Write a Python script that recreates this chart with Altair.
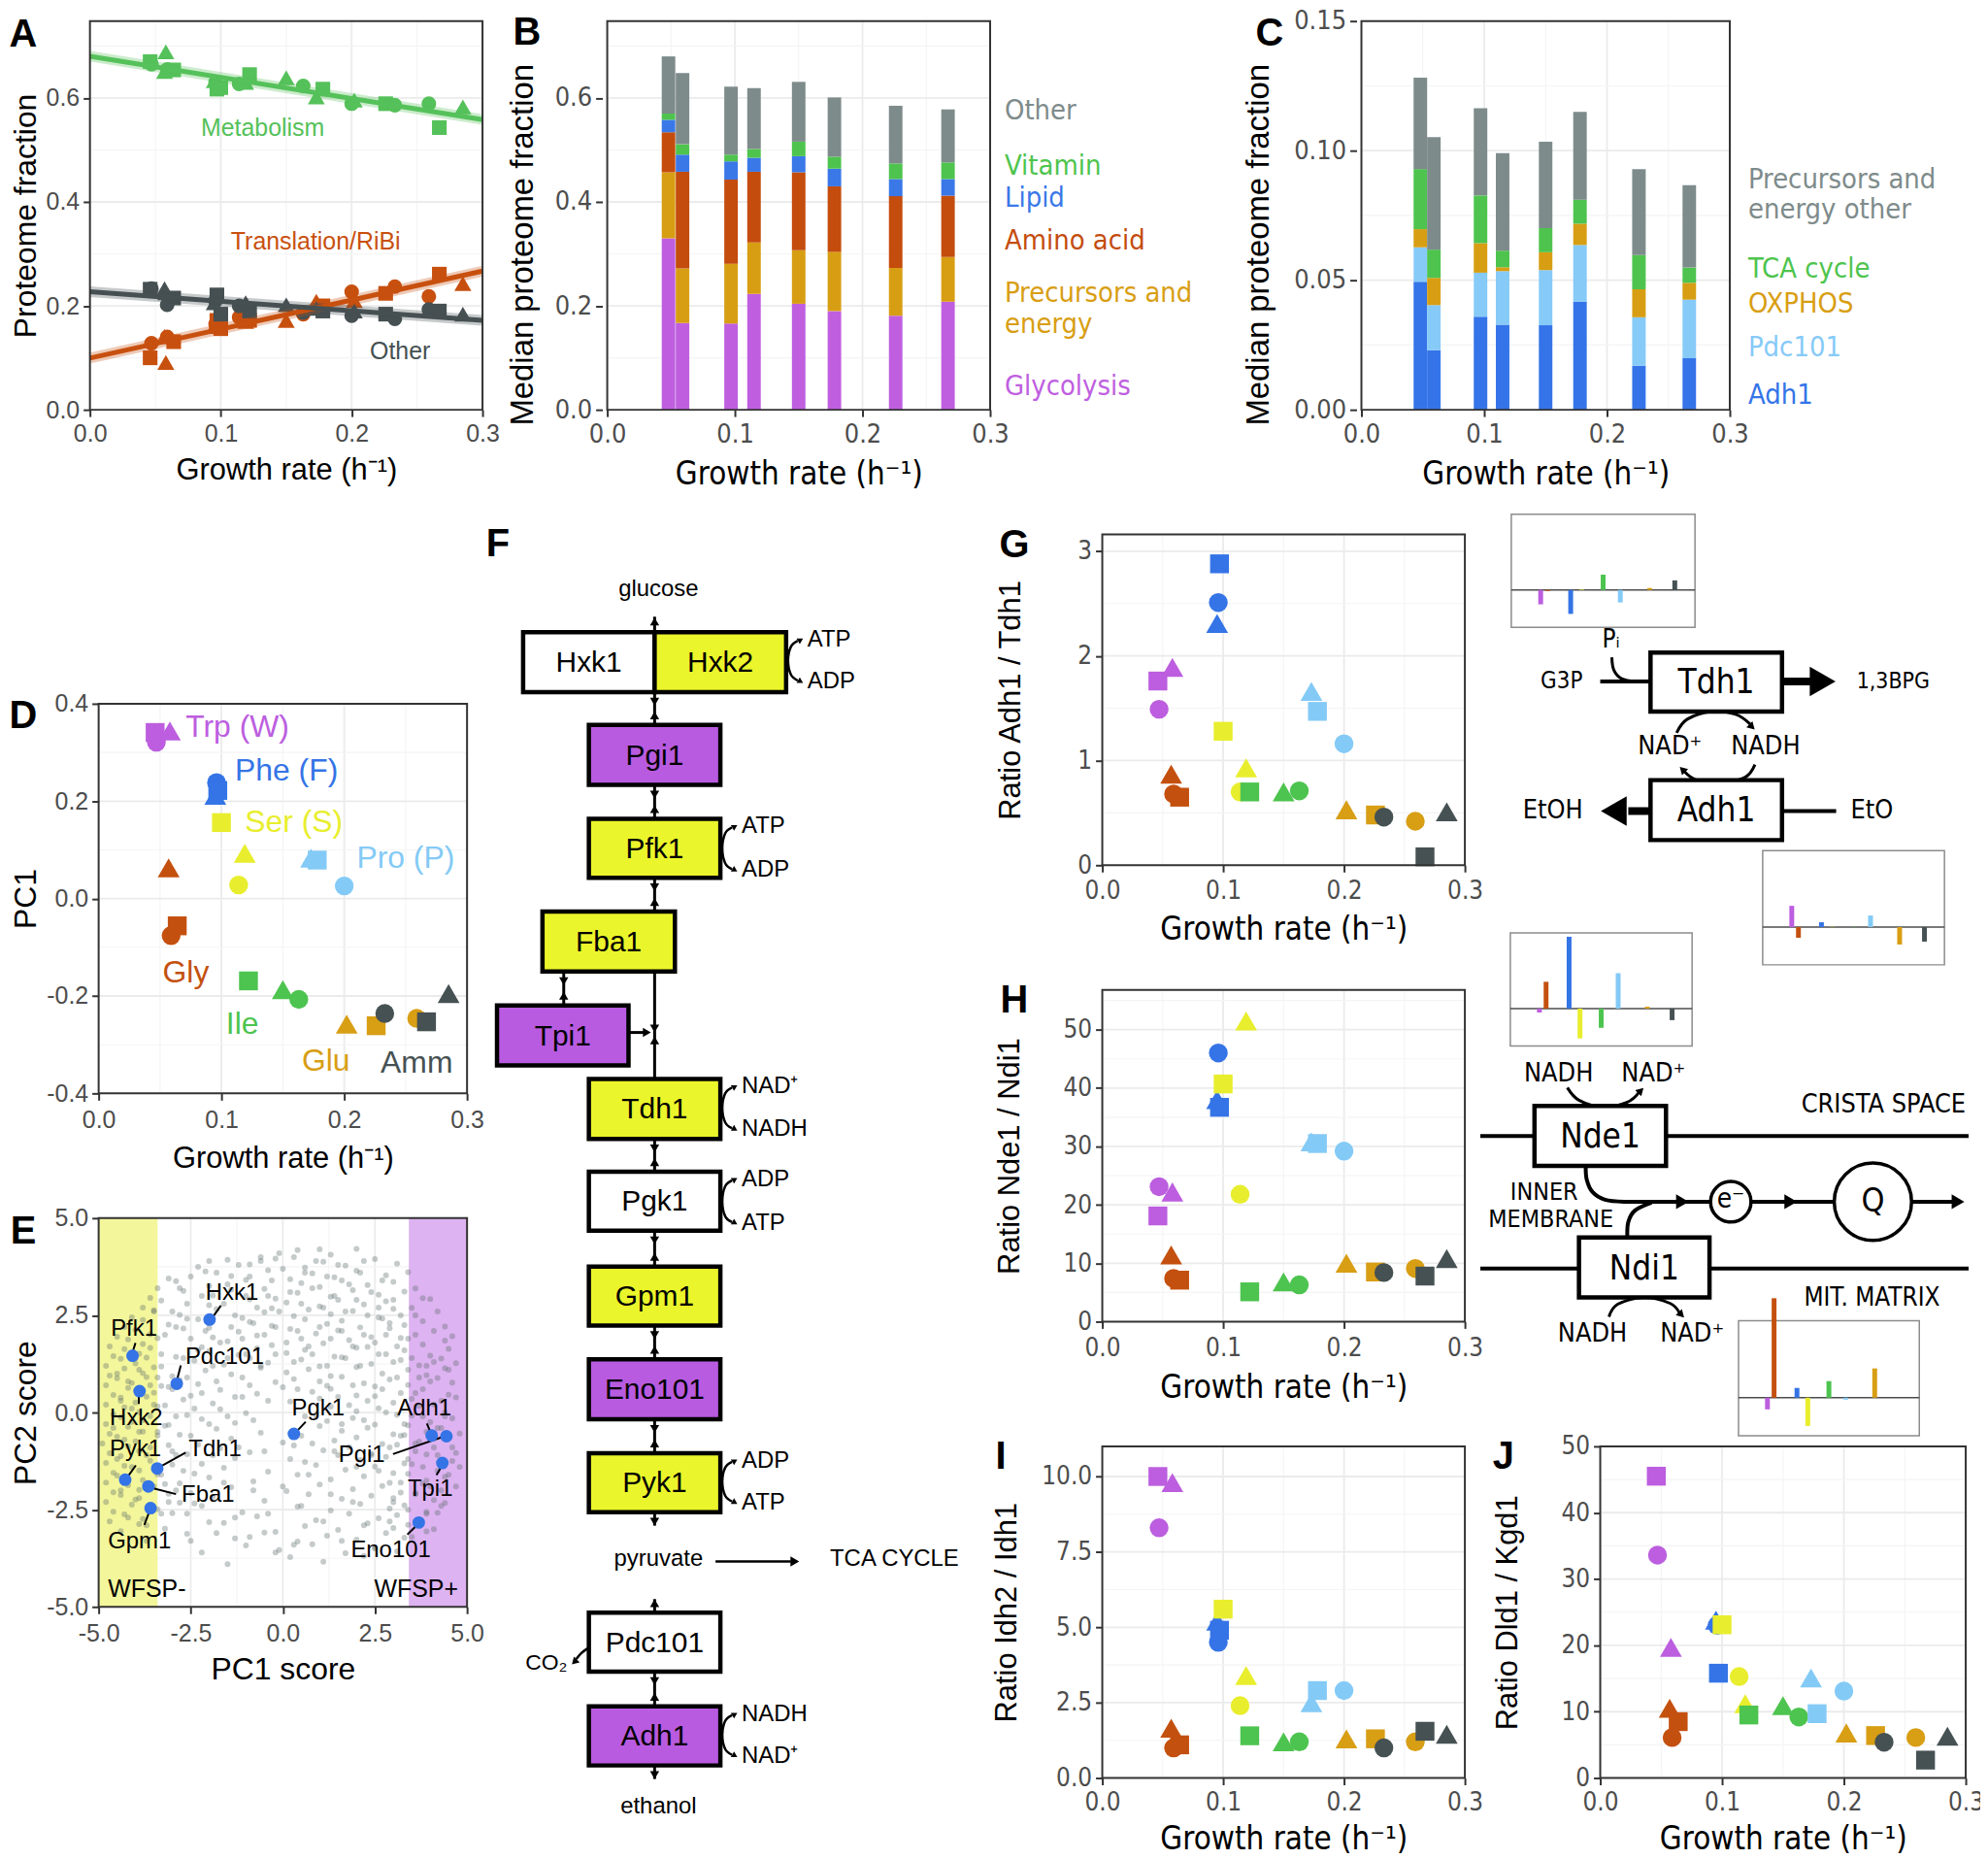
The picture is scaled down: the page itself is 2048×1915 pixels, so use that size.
import altair as alt
import pandas as pd

SANS = "Liberation Sans, Arial, Helvetica, sans-serif"
NARROW = "Liberation Sans Narrow, Arial Narrow, DejaVu Sans Condensed, Liberation Sans, sans-serif"
GR = "Growth rate (h\u207b\u00b9)"

# ---------------- conditions (shared) ----------------
conds = ['Trp', 'Gly', 'Phe', 'Ser', 'Ile', 'Pro', 'Glu', 'Amm']
cond_colors = ['#BC5EDF', '#C4500F', '#3574E6', '#E8EE2D', '#4DC44F', '#84CAF6', '#D89E14', '#465153']
reps = ['circle', 'square', 'triangle-up']
med_growth = [0.048, 0.059, 0.097, 0.115, 0.150, 0.178, 0.226, 0.267]

# replicate growth rates: [circle, square, triangle]
growth = {'Trp': [0.047, 0.046, 0.058], 'Gly': [0.059, 0.064, 0.057], 'Phe': [0.096, 0.097, 0.095],
          'Ser': [0.114, 0.100, 0.119], 'Ile': [0.163, 0.122, 0.150], 'Pro': [0.200, 0.178, 0.173],
          'Glu': [0.259, 0.226, 0.202], 'Amm': [0.233, 0.267, 0.285]}

# ---------------- panel A ----------------
a_metab = {'Trp': [0.665, 0.670, 0.689], 'Gly': [0.655, 0.654, 0.651], 'Phe': [0.630, 0.617, 0.633],
           'Ser': [0.627, 0.620, 0.630], 'Ile': [0.623, 0.645, 0.639], 'Pro': [0.589, 0.617, 0.602],
           'Glu': [0.589, 0.589, 0.596], 'Amm': [0.586, 0.543, 0.583]}
a_transl = {'Trp': [0.128, 0.100, 0.091], 'Gly': [0.140, 0.131, 0.141], 'Phe': [0.165, 0.172, 0.160],
            'Ser': [0.178, 0.156, 0.170], 'Ile': [0.184, 0.172, 0.172], 'Pro': [0.227, 0.200, 0.209],
            'Glu': [0.218, 0.224, 0.210], 'Amm': [0.237, 0.261, 0.243]}
a_other = {'Trp': [0.233, 0.232, 0.225], 'Gly': [0.202, 0.215, 0.233], 'Phe': [0.210, 0.221, 0.206],
           'Ser': [0.200, 0.184, 0.206], 'Ile': [0.187, 0.190, 0.202], 'Pro': [0.181, 0.190, 0.195],
           'Glu': [0.193, 0.184, 0.190], 'Amm': [0.175, 0.190, 0.184]}
a_cats = ['Metabolism', 'Translation/RiBi', 'Other']
a_cols = ['#55C15A', '#C8500F', '#465052']

# ---------------- panel B ----------------
b_cats = ['Glycolysis', 'Precursors and energy', 'Amino acid', 'Lipid', 'Vitamin', 'Other']
b_cols = ['#BF5FE0', '#D89E13', '#C44C0D', '#3A78E8', '#4EC44E', '#7E8B8B']
b_glyc = [0.330, 0.167, 0.166, 0.223, 0.204, 0.190, 0.181, 0.208]
b_prec = [0.127, 0.105, 0.115, 0.099, 0.103, 0.114, 0.092, 0.086]
b_amino = [0.077, 0.186, 0.162, 0.136, 0.150, 0.126, 0.138, 0.118]
b_lipid = [0.024, 0.033, 0.035, 0.027, 0.031, 0.034, 0.033, 0.032]
b_vit = [0.012, 0.020, 0.013, 0.017, 0.028, 0.023, 0.030, 0.032]
b_other = [0.110, 0.137, 0.131, 0.117, 0.115, 0.114, 0.111, 0.102]

# ---------------- panel C ----------------
c_cats = ['Adh1', 'Pdc101', 'OXPHOS', 'TCA cycle', 'Precursors and energy other']
c_cols = ['#3474E8', '#86CAF8', '#D89E13', '#4EC44E', '#7E8B8B']
c_adh1 = [0.0494, 0.0230, 0.0359, 0.0328, 0.0326, 0.0417, 0.0170, 0.0199]
c_pdc = [0.0133, 0.0174, 0.0170, 0.0207, 0.0213, 0.0219, 0.0187, 0.0226]
c_ox = [0.0070, 0.0105, 0.0114, 0.0015, 0.0069, 0.0082, 0.0108, 0.0065]
c_tca = [0.0232, 0.0109, 0.0184, 0.0064, 0.0093, 0.0093, 0.0132, 0.0059]
c_other = [0.0353, 0.0434, 0.0337, 0.0376, 0.0333, 0.0339, 0.0332, 0.0318]

# ---------------- panels D, G, H, I, J ----------------
d_pc1 = {'Trp': [0.321, 0.341, 0.344], 'Gly': [-0.076, -0.056, 0.063], 'Phe': [0.238, 0.222, 0.212],
         'Ser': [0.028, 0.156, 0.093], 'Ile': [-0.207, -0.169, -0.187], 'Pro': [0.026, 0.079, 0.083],
         'Glu': [-0.246, -0.261, -0.258], 'Amm': [-0.236, -0.253, -0.195]}
g_ratio = {'Trp': [1.49, 1.76, 1.89], 'Gly': [0.68, 0.65, 0.87], 'Phe': [2.51, 2.88, 2.31],
           'Ser': [0.70, 1.28, 0.93], 'Ile': [0.71, 0.70, 0.70], 'Pro': [1.16, 1.47, 1.66],
           'Glu': [0.42, 0.48, 0.53], 'Amm': [0.46, 0.08, 0.51]}
h_ratio = {'Trp': [23.1, 18.1, 22.2], 'Gly': [7.4, 7.1, 11.4], 'Phe': [46.0, 36.7, 38.0],
           'Ser': [21.8, 40.7, 51.5], 'Ile': [6.3, 5.1, 6.8], 'Pro': [29.2, 30.5, 30.8],
           'Glu': [9.1, 8.5, 10.0], 'Amm': [8.4, 7.8, 10.8]}
i_ratio = {'Trp': [8.3, 10.0, 9.8], 'Gly': [1.0, 1.1, 1.65], 'Phe': [4.5, 4.9, 5.2],
           'Ser': [2.4, 5.6, 3.4], 'Ile': [1.2, 1.4, 1.2], 'Pro': [2.9, 2.9, 2.5],
           'Glu': [1.2, 1.3, 1.3], 'Amm': [1.0, 1.55, 1.45]}
j_ratio = {'Trp': [33.6, 45.5, 19.7], 'Gly': [6.1, 8.5, 10.5], 'Phe': [23.0, 15.8, 23.8],
           'Ser': [15.3, 23.1, 11.2], 'Ile': [9.2, 9.5, 10.9], 'Pro': [13.1, 9.7, 15.1],
           'Glu': [6.1, 6.4, 6.8], 'Amm': [5.4, 2.7, 6.3]}

# ---------------- panel E ----------------
genes = ['Hxk1', 'Pfk1', 'Pdc101', 'Hxk2', 'Pgk1', 'Adh1', 'Pgi1', 'Tpi1', 'Eno101', 'Tdh1', 'Pyk1', 'Fba1', 'Gpm1']
gene_pc1 = [-1.99, -4.08, -2.88, -3.89, 0.30, 4.04, 4.44, 4.33, 3.69, -3.41, -4.28, -3.65, -3.59]
gene_pc2 = [2.39, 1.46, 0.74, 0.55, -0.55, -0.59, -0.61, -1.30, -2.83, -1.44, -1.73, -1.90, -2.46]
cloud = [(-2.8, 3.2), (-2.5, 3.5), (-2.2, 3.0), (-1.8, 3.6), (-1.5, 3.3), (-1.2, 3.8), (-0.9, 3.5), (-0.6, 3.9),
         (-0.3, 3.4), (0.0, 3.7), (0.3, 4.0), (0.6, 3.6), (0.9, 3.9), (1.2, 3.5), (1.5, 3.8), (1.8, 3.3),
         (2.1, 3.6), (2.4, 3.1), (2.7, 3.4), (3.0, 2.9), (-3.0, 2.6), (-2.6, 2.8), (-2.3, 2.4), (-1.6, 2.8),
         (-1.3, 2.5), (-1.0, 3.0), (-0.7, 2.7), (-0.4, 3.0), (-0.1, 2.6), (0.2, 3.1), (0.5, 2.8), (0.8, 3.2),
         (1.1, 2.7), (1.4, 3.0), (1.7, 2.6), (2.0, 2.9), (2.3, 2.5), (2.6, 2.7), (2.9, 2.3), (3.2, 2.5),
         (-3.2, 2.0), (-2.9, 2.2), (-2.5, 1.9), (-2.1, 2.1), (-1.7, 1.8), (-1.4, 2.2), (-1.1, 1.9), (-0.8, 2.3),
         (-0.5, 2.0), (-0.2, 2.2), (0.1, 1.8), (0.4, 2.1), (0.7, 1.7), (1.0, 2.2), (1.3, 1.9), (1.6, 2.1),
         (1.9, 1.7), (2.2, 2.0), (2.5, 1.8), (2.8, 2.0), (3.1, 1.7), (3.4, 1.9), (-3.3, 1.5), (-2.7, 1.4),
         (-2.3, 1.6), (-1.9, 1.2), (-1.5, 1.4), (-1.0, 1.5), (-0.6, 1.2), (-0.2, 1.5), (0.3, 1.3), (0.8, 1.5),
         (1.2, 1.2), (1.7, 1.4), (2.1, 1.2), (2.6, 1.5), (3.0, 1.3), (3.5, 1.4), (3.9, 1.2), (-3.4, 0.9),
         (-3.0, 0.6), (-2.6, 0.9), (-2.2, 0.5), (-1.8, 0.8), (-1.3, 0.4), (-0.9, 0.7), (-0.4, 0.3), (0.4, 0.6),
         (1.0, 0.8), (1.5, 0.4), (1.9, 0.7), (2.3, 0.3), (2.7, 0.6), (3.1, 0.9), (3.6, 0.5), (4.0, 0.8),
         (4.3, 0.3), (-3.5, 0.2), (-2.9, -0.1), (-2.4, 0.1), (-2.0, -0.3), (-1.5, -0.1), (-0.8, -0.2), (0.9, -0.1),
         (1.6, -0.3), (2.2, -0.2), (2.8, 0.0), (3.3, -0.3), (3.8, -0.1), (4.2, -0.4), (-4.5, 1.0), (-4.2, 0.8),
         (-3.9, 1.1), (-3.6, 0.7), (-4.4, 0.3), (-4.1, 0.1), (-3.8, -0.2), (-4.6, -0.4), (-4.3, -0.7), (-3.9, -0.5),
         (-3.6, -0.9), (-4.5, -1.2), (-4.1, -1.4), (-3.7, -1.1), (-3.3, -1.6), (-4.4, -2.0), (-3.9, -2.2), (-3.5, -1.9),
         (-3.1, -2.3), (-4.2, -2.7), (-3.7, -2.9), (-3.3, -2.6), (-4.0, 1.4), (-3.4, -0.5), (-3.0, -1.0), (-2.7, -1.5),
         (-2.5, -0.6), (-2.9, -2.0), (-2.6, -2.6), (4.5, 1.1), (4.1, 1.3), (3.7, 0.9), (4.4, -0.1), (4.0, -0.6),
         (3.6, -0.8), (4.6, -0.9), (4.2, -1.1), (3.8, -1.4), (3.4, -1.2), (4.5, -1.6), (4.0, -1.9), (3.6, -2.1),
         (3.2, -1.8), (4.3, -2.4), (3.9, -2.6), (3.4, -2.5), (3.0, -2.2), (4.1, -3.0), (3.5, -3.2), (2.9, -2.8),
         (2.6, -1.5), (2.9, -0.9), (2.4, -1.1), (3.2, -0.6), (-1.9, -1.1), (-1.2, -0.9), (-0.5, -1.0), (0.2, -1.2),
         (0.8, -0.8), (1.4, -1.0), (2.0, -1.4), (-1.6, -1.8), (-0.8, -2.0), (0.0, -1.9), (0.7, -1.6), (1.3, -2.1),
         (1.9, -2.3), (-2.2, -2.4), (-1.3, -2.7), (-0.4, -2.6), (0.5, -2.4), (1.1, -2.8), (2.2, -2.9), (-1.8, -3.1),
         (-0.9, -3.2), (0.3, -3.4), (1.6, -3.3), (2.5, -3.5), (-2.5, -3.3), (-0.2, -3.6), (-2.0, 3.9), (1.0, 4.2),
         (-0.1, 4.1), (2.2, 3.9), (-3.5, 2.6)]
# further background genes, read band by band: (PC1 scores, PC2 scores)
cloud_rows = [
    ([-0.6, 0.4, 1.3, 2.0], [4.0, 4.18, 4.06, 4.21]),
    ([-2.3, -1.5, -0.9, -0.2, 0.6, 1.1, 1.7, 2.5, 3.1], [3.75, 3.93, 3.81, 3.96, 3.73, 3.88, 3.78, 3.95, 3.83]),
    ([-3.1, -2.1, -1.4, -0.4, 0.2, 0.8, 1.4, 2.0, 2.8, 3.4], [3.45, 3.63, 3.51, 3.66, 3.43, 3.58, 3.48, 3.65, 3.53, 3.61]),
    ([-3.4, -2.9, -2.0, -1.0, -0.5, 0.5, 1.0, 1.6, 2.3, 3.0, 3.6], [3.2, 3.38, 3.26, 3.41, 3.18, 3.33, 3.23, 3.4, 3.28, 3.36, 3.19]),
    ([-3.6, -2.7, -1.9, -1.4, -0.2, 0.4, 1.3, 1.9, 2.6, 3.3, 3.8], [2.95, 3.13, 3.01, 3.16, 2.93, 3.08, 2.98, 3.15, 3.03, 3.11, 2.94]),
    ([-3.8, -3.3, -2.0, -0.9, -0.3, 0.1, 1.0, 1.5, 2.2, 2.8, 3.5, 4.0],
     [2.7, 2.88, 2.76, 2.91, 2.68, 2.83, 2.73, 2.9, 2.78, 2.86, 2.69, 2.92]),
    ([-4.1, -3.5, -2.8, -1.8, -1.1, -0.5, 0.3, 0.7, 1.3, 1.9, 2.6, 3.0, 3.6, 4.2],
     [2.45, 2.63, 2.51, 2.66, 2.43, 2.58, 2.48, 2.65, 2.53, 2.61, 2.44, 2.67, 2.5, 2.6]),
    ([-4.3, -3.8, -3.1, -2.6, -2.0, -0.9, -0.3, 0.6, 1.2, 1.6, 2.1, 2.7, 3.3, 3.8, 4.4],
     [2.2, 2.38, 2.26, 2.41, 2.18, 2.33, 2.23, 2.4, 2.28, 2.36, 2.19, 2.42, 2.25, 2.35, 2.21]),
    ([-4.5, -4.0, -3.6, -2.7, -1.9, -1.2, -0.7, 0.2, 0.9, 1.5, 2.4, 2.9, 3.6, 4.1, 4.6],
     [1.95, 2.13, 2.01, 2.16, 1.93, 2.08, 1.98, 2.15, 2.03, 2.11, 1.94, 2.17, 2.0, 2.1, 1.96]),
    ([-4.7, -4.2, -3.8, -3.4, -2.2, -1.5, -0.3, 0.5, 1.1, 1.8, 2.3, 3.2, 3.8, 4.4],
     [1.7, 1.88, 1.76, 1.91, 1.68, 1.83, 1.73, 1.9, 1.78, 1.86, 1.69, 1.92, 1.75, 1.85]),
    ([-4.6, -4.3, -3.9, -3.6, -2.9, -2.0, -1.2, -0.7, 0.1, 0.6, 1.4, 2.0, 2.8, 3.3, 4.0, 4.5],
     [1.45, 1.63, 1.51, 1.66, 1.43, 1.58, 1.48, 1.65, 1.53, 1.61, 1.44, 1.67, 1.5, 1.6, 1.46, 1.64]),
    ([-4.8, -4.4, -4.0, -3.7, -3.3, -2.4, -1.6, -0.9, -0.4, 0.5, 1.0, 1.6, 2.4, 3.2, 3.7, 4.3, 4.7],
     [1.2, 1.38, 1.26, 1.41, 1.18, 1.33, 1.23, 1.4, 1.28, 1.36, 1.19, 1.42, 1.25, 1.35, 1.21, 1.39, 1.27]),
    ([-4.7, -4.3, -3.8, -3.5, -3.0, -2.1, -1.4, -0.6, 0.1, 0.7, 1.3, 2.0, 2.7, 3.4, 3.9, 4.4],
     [0.95, 1.13, 1.01, 1.16, 0.93, 1.08, 0.98, 1.15, 1.03, 1.11, 0.94, 1.17, 1.0, 1.1, 0.96, 1.14]),
    ([-4.8, -4.5, -4.1, -3.7, -3.3, -2.8, -2.3, -1.1, -0.2, 0.3, 1.2, 1.6, 2.2, 2.9, 3.4, 4.2, 4.6],
     [0.7, 0.88, 0.76, 0.91, 0.68, 0.83, 0.73, 0.9, 0.78, 0.86, 0.69, 0.92, 0.75, 0.85, 0.71, 0.89, 0.77]),
    ([-4.6, -4.2, -3.5, -3.1, -2.5, -1.7, -0.7, 0.0, 0.8, 1.3, 2.0, 2.5, 3.2, 3.8, 4.5],
     [0.45, 0.63, 0.51, 0.66, 0.43, 0.58, 0.48, 0.65, 0.53, 0.61, 0.44, 0.67, 0.5, 0.6, 0.46]),
    ([-4.8, -4.4, -4.0, -3.7, -3.2, -2.7, -1.9, -1.1, 0.2, 1.0, 1.8, 2.5, 3.0, 3.5, 4.1, 4.7],
     [0.2, 0.38, 0.26, 0.41, 0.18, 0.33, 0.23, 0.4, 0.28, 0.36, 0.19, 0.42, 0.25, 0.35, 0.21, 0.39]),
    ([-4.6, -4.3, -3.9, -3.4, -2.6, -1.7, -1.0, 1.3, 2.0, 2.6, 3.1, 3.7, 4.4],
     [-0.05, 0.13, 0.01, 0.16, -0.07, 0.08, -0.02, 0.15, 0.03, 0.11, -0.06, 0.17, 0.0]),
    ([-4.8, -4.4, -4.1, -3.6, -3.1, -2.2, -1.3, 0.6, 1.2, 1.9, 2.5, 3.5, 4.0, 4.6],
     [-0.3, -0.12, -0.24, -0.09, -0.32, -0.17, -0.27, -0.1, -0.22, -0.14, -0.31, -0.08, -0.25, -0.15]),
    ([-4.7, -4.2, -3.8, -3.2, -2.8, -1.8, -0.6, 1.0, 1.6, 2.3, 3.0, 3.4, 3.9, 4.3, 4.8],
     [-0.55, -0.37, -0.49, -0.34, -0.57, -0.42, -0.52, -0.35, -0.47, -0.39, -0.56, -0.33, -0.5, -0.4, -0.54]),
    ([-4.9, -4.5, -4.0, -3.4, -2.3, -1.4, 0.0, 0.5, 1.4, 2.0, 2.7, 3.3, 3.7, 4.5],
     [-0.8, -0.62, -0.74, -0.59, -0.82, -0.67, -0.77, -0.6, -0.72, -0.64, -0.81, -0.58, -0.75, -0.65]),
    ([-4.7, -4.2, -3.9, -3.1, -2.6, -1.7, -0.9, 0.3, 1.1, 1.8, 2.4, 3.1, 3.6, 4.1, 4.7],
     [-1.05, -0.87, -0.99, -0.84, -1.07, -0.92, -1.02, -0.85, -0.97, -0.89, -1.06, -0.83, -1.0, -0.9, -1.04]),
    ([-4.8, -4.4, -3.6, -2.9, -2.2, -1.3, 0.6, 1.5, 2.1, 2.8, 3.3, 3.9, 4.6],
     [-1.3, -1.12, -1.24, -1.09, -1.32, -1.17, -1.27, -1.1, -1.22, -1.14, -1.31, -1.08, -1.25]),
    ([-4.6, -4.3, -3.9, -3.0, -2.4, -1.6, -0.4, 0.9, 1.7, 2.5, 3.0, 3.5, 4.2, 4.8],
     [-1.55, -1.37, -1.49, -1.34, -1.57, -1.42, -1.52, -1.35, -1.47, -1.39, -1.56, -1.33, -1.5, -1.4]),
    ([-4.8, -4.5, -3.8, -3.4, -2.8, -2.0, -0.8, 0.4, 1.3, 2.2, 2.9, 3.4, 3.9, 4.4],
     [-1.8, -1.62, -1.74, -1.59, -1.82, -1.67, -1.77, -1.6, -1.72, -1.64, -1.81, -1.58, -1.75, -1.65]),
    ([-4.6, -4.2, -3.9, -3.2, -2.5, -1.4, 0.1, 1.0, 1.9, 2.7, 3.2, 3.8, 4.3, 4.7],
     [-2.05, -1.87, -1.99, -1.84, -2.07, -1.92, -2.02, -1.85, -1.97, -1.89, -2.06, -1.83, -2.0, -1.9]),
    ([-4.8, -4.4, -4.0, -3.1, -2.8, -1.9, -0.5, 0.7, 1.6, 2.4, 3.0, 3.6, 4.1],
     [-2.3, -2.12, -2.24, -2.09, -2.32, -2.17, -2.27, -2.1, -2.22, -2.14, -2.31, -2.08, -2.25]),
    ([-4.6, -4.1, -3.4, -2.4, -1.1, 0.4, 1.3, 2.1, 2.9, 3.3, 3.9, 4.4],
     [-2.55, -2.37, -2.49, -2.34, -2.57, -2.42, -2.52, -2.35, -2.47, -2.39, -2.56, -2.33]),
    ([-4.7, -4.3, -3.8, -3.0, -2.0, -0.7, 0.9, 1.8, 2.6, 3.1, 3.6, 4.2],
     [-2.8, -2.62, -2.74, -2.59, -2.82, -2.67, -2.77, -2.6, -2.72, -2.64, -2.81, -2.58]),
    ([-4.4, -3.9, -3.2, -1.6, -0.2, 0.6, 1.5, 2.3, 3.0, 3.4, 3.9],
     [-3.05, -2.87, -2.99, -2.84, -3.07, -2.92, -3.02, -2.85, -2.97, -2.89, -3.06]),
    ([-3.7, -2.6, -1.3, -0.5, 0.4, 1.2, 2.0, 2.8, 3.3], [-3.3, -3.12, -3.24, -3.09, -3.32, -3.17, -3.27, -3.1, -3.22]),
    ([-2.2, -1.0, -0.1, 0.8, 1.7, 2.5, 3.1], [-3.6, -3.42, -3.54, -3.39, -3.62, -3.47, -3.57]),
    ([-1.5, 0.2, 1.1, 2.2], [-3.9, -3.72, -3.84, -3.69])]

# ---------------- inset loadings (8 conditions) ----------------
ins_g_top = [-15, -1, -25, 0.5, 16, -13, 2, 10]
ins_g_low = [22, -11, 5, 0.3, 0.3, 12, -18, -15]
ins_h_top = [-4, 28, 75, -31, -20, 37, 2, -12]
ins_h_low = [-12, 102, 10, -29, 17, -2, 30, 0.5]

# =====================================================================
SHX, SHY = 8, 0          # page pixel -> chart pixel offsets
CW, CH = 2040, 1907


def fmt_kw(fmt, minus):
    if minus:
        return {'labelExpr': "replace(format(datum.value, '" + fmt + "'), '\u2212', '-')"}
    return {'format': fmt}


class Panel:
    def __init__(self, x0, x1, y0, y1, xd, yd, xvals, xfmt, xtitle, yvals, yfmt, ytitle,
                 lfont, lsize, xtfont, xtsize, ytfont, ytsize, xlp, xtp, ylp, ytp, minus=False, ytitle_y=None):
        self.xd, self.yd = xd, yd
        self.xs = alt.Scale(domain=xd, range=[x0 - SHX, x1 - SHX], nice=False, zero=False)
        self.ys = alt.Scale(domain=yd, range=[y1 - SHY, y0 - SHY], nice=False, zero=False)
        common = dict(labelFont=lfont, labelFontSize=lsize, labelColor='#4D4D4D', titleColor='#000000',
                      titleFontWeight='normal', tickColor='#333333', tickSize=7, tickWidth=2, domain=False,
                      grid=False, labelFlush=False, labelOverlap=False)
        self.xa = alt.Axis(orient='bottom', offset=(y1 - SHY) - CH, values=xvals, title=xtitle, titleFont=xtfont,
                           titleFontSize=xtsize, labelPadding=xlp, titlePadding=xtp,
                           **fmt_kw(xfmt, minus), **common)
        extra = {} if ytitle_y is None else {'titleY': ytitle_y - SHY}
        self.ya = alt.Axis(orient='left', offset=-(x0 - SHX), values=yvals, title=ytitle, titleFont=ytfont,
                           titleFontSize=ytsize, labelPadding=ylp, titlePadding=ytp,
                           **fmt_kw(yfmt, minus), **common, **extra)

    def X(self, f):
        return alt.X(f, scale=self.xs, axis=self.xa)

    def Y(self, f, **kw):
        return alt.Y(f, scale=self.ys, axis=self.ya, **kw)

    def grid(self, xmaj, xmin, ymaj, ymin):
        dfx = pd.DataFrame({'v': xmaj + xmin, 'w': [1.8] * len(xmaj) + [1.1] * len(xmin),
                            'c': ['#EBEBEB'] * len(xmaj) + ['#F4F4F4'] * len(xmin)})
        dfx['lo'], dfx['hi'] = self.yd[0], self.yd[1]
        dfy = pd.DataFrame({'v': ymaj + ymin, 'w': [1.8] * len(ymaj) + [1.1] * len(ymin),
                            'c': ['#EBEBEB'] * len(ymaj) + ['#F4F4F4'] * len(ymin)})
        dfy['lo'], dfy['hi'] = self.xd[0], self.xd[1]
        lx = alt.Chart(dfx).mark_rule().encode(x=self.X('v:Q'), y=self.Y('lo:Q'), y2='hi:Q',
                                               strokeWidth=alt.StrokeWidth('w:Q', scale=None),
                                               color=alt.Color('c:N', scale=None))
        ly = alt.Chart(dfy).mark_rule().encode(y=self.Y('v:Q'), x=self.X('lo:Q'), x2='hi:Q',
                                               strokeWidth=alt.StrokeWidth('w:Q', scale=None),
                                               color=alt.Color('c:N', scale=None))
        return [lx, ly]

    def frame(self):
        df = pd.DataFrame({'a': [self.xd[0]], 'b': [self.xd[1]], 'c': [self.yd[0]], 'd': [self.yd[1]]})
        return alt.Chart(df).mark_rect(fillOpacity=0, stroke='#333333', strokeWidth=2).encode(
            x=self.X('a:Q'), x2='b:Q', y=self.Y('c:Q'), y2='d:Q')


def long_df(vals):
    rows = []
    for ci, c in enumerate(conds):
        for ri, r in enumerate(reps):
            rows.append({'cond': c, 'rep': r, 'g': growth[c][ri], 'v': vals[c][ri], 'col': cond_colors[ci]})
    return pd.DataFrame(rows)


GX = [0, 0.1, 0.2, 0.3]
XMAJ, XMIN = [0.1, 0.2], [0.05, 0.15, 0.25]


def points(p, df, size):
    df = df.copy()
    df['sz'] = [size * (1.35 if r == 'triangle-up' else 1.0) for r in df['rep']]
    return alt.Chart(df).mark_point(filled=True, opacity=1).encode(
        x=p.X('g:Q'), y=p.Y('v:Q'), color=alt.Color('col:N', scale=None), shape=alt.Shape('rep:N', scale=None),
        size=alt.Size('sz:Q', scale=None))


# ---------------- Panel A ----------------
pA = Panel(93, 499, 10, 412, [0, 0.3], [0, 0.748], GX, '.1f', GR, [0, 0.2, 0.4, 0.6], '.1f', 'Proteome fraction',
           SANS, 25, SANS, 31, SANS, 32, 6, 10, 4, 4)
dfA = pd.concat([long_df(v).assign(col=c) for c, v in zip(a_cols, [a_metab, a_transl, a_other])])
regA = alt.Chart(dfA).transform_regression('g', 'v', groupby=['col'], extent=[0, 0.3])
bandA = regA.mark_line(strokeWidth=11, opacity=0.3).encode(x=pA.X('g:Q'), y=pA.Y('v:Q'),
                                                           color=alt.Color('col:N', scale=None))
lineA = regA.mark_line(strokeWidth=5).encode(x=pA.X('g:Q'), y=pA.Y('v:Q'), color=alt.Color('col:N', scale=None))
labA = alt.Chart(pd.DataFrame({'t': a_cats, 'x': [0.132, 0.1725, 0.237], 'y': [0.542, 0.323, 0.113],
                               'c': a_cols})).mark_text(font=SANS, fontSize=25, align='center',
                                                        baseline='middle').encode(
    x=pA.X('x:Q'), y=pA.Y('y:Q'), text='t:N', color=alt.Color('c:N', scale=None))
panelA = alt.layer(*pA.grid(XMAJ, XMIN, [0.2, 0.4, 0.6], [0.1, 0.3, 0.5, 0.7]), points(pA, dfA, 230),
                   bandA, lineA, labA, pA.frame())


# ---------------- Panels B, C (stacked bars) ----------------
def stacked_panel(p, stacks, cols, ymaj, ymin, labels, laby, labc, labx):
    rows = []
    for j, (col, vals) in enumerate(zip(cols, stacks)):
        for i, v in enumerate(vals):
            rows.append({'g': med_growth[i], 'v': v, 'col': col, 'o': j})
    bars = alt.Chart(pd.DataFrame(rows)).mark_bar(width=14).encode(
        x=p.X('g:Q'), y=p.Y('v:Q', stack='zero'), color=alt.Color('col:N', scale=None),
        order=alt.Order('o:Q', sort='ascending'))
    labs = alt.Chart(pd.DataFrame({'t': labels, 'y': laby, 'c': labc})).mark_text(
        font=NARROW, fontSize=29, align='left', baseline='middle').encode(
        x=alt.value(labx - SHX), y=p.Y('y:Q'), text='t:N', color=alt.Color('c:N', scale=None))
    return alt.layer(*p.grid(XMAJ, XMIN, ymaj, ymin), bars, labs, p.frame())


pB = Panel(623, 1029, 10, 412, [0, 0.3], [0, 0.748], GX, '.1f', GR, [0, 0.2, 0.4, 0.6], '.1f',
           'Median proteome fraction', NARROW, 27, NARROW, 33, SANS, 33, 6, 12, 4, 16, ytitle_y=241)
panelB = stacked_panel(pB, [b_glyc, b_prec, b_amino, b_lipid, b_vit, b_other], b_cols,
                       [0.2, 0.4, 0.6], [0.1, 0.3, 0.5, 0.7],
                       ['Other', 'Vitamin', 'Lipid', 'Amino acid', 'Precursors and', 'energy', 'Glycolysis'],
                       [0.575, 0.469, 0.408, 0.326, 0.224, 0.165, 0.045],
                       ['#7E8B8B', '#4EC44E', '#3A78E8', '#C44C0D', '#D89E13', '#D89E13', '#BF5FE0'], 1039)
pC = Panel(1403, 1794, 10, 412, [0, 0.3], [0, 0.15], GX, '.1f', GR, [0, 0.05, 0.10, 0.15], '.2f',
           'Median proteome fraction', NARROW, 27, NARROW, 33, SANS, 33, 6, 12, 4, 19, ytitle_y=241)
panelC = stacked_panel(pC, [c_adh1, c_pdc, c_ox, c_tca, c_other], c_cols,
                       [0.05, 0.10], [0.025, 0.075, 0.125],
                       ['Precursors and', 'energy other', 'TCA cycle', 'OXPHOS', 'Pdc101', 'Adh1'],
                       [0.0890, 0.0772, 0.0545, 0.0410, 0.0239, 0.0056],
                       ['#7E8B8B', '#7E8B8B', '#4EC44E', '#D89E13', '#86CAF8', '#3474E8'], 1808)

# ---------------- Panel D ----------------
pD = Panel(102, 483, 716, 1119, [0, 0.3], [-0.4, 0.4], GX, '.1f', GR, [-0.4, -0.2, 0, 0.2, 0.4], '.1f', 'PC1',
           SANS, 25, SANS, 31, SANS, 32, 8, 12, 4, 4, minus=True)
labD = alt.Chart(pd.DataFrame({
    't': ['Trp (W)', 'Phe (F)', 'Ser (S)', 'Pro (P)', 'Gly', 'Ile', 'Glu', 'Amm'],
    'x': [0.113, 0.153, 0.159, 0.250, 0.071, 0.117, 0.185, 0.259],
    'y': [0.351, 0.263, 0.156, 0.083, -0.152, -0.258, -0.334, -0.338],
    'c': [cond_colors[0], cond_colors[2], cond_colors[3], cond_colors[5],
          cond_colors[1], cond_colors[4], cond_colors[6], cond_colors[7]]})).mark_text(
    font=SANS, fontSize=32, align='center', baseline='middle').encode(
    x=pD.X('x:Q'), y=pD.Y('y:Q'), text='t:N', color=alt.Color('c:N', scale=None))
panelD = alt.layer(*pD.grid(XMAJ, XMIN, [-0.2, 0, 0.2], [-0.3, -0.1, 0.1, 0.3]),
                   points(pD, long_df(d_pc1), 380), labD, pD.frame())

# ---------------- Panel E ----------------
EV = [-5, -2.5, 0, 2.5, 5]
pE = Panel(102, 483, 1248, 1650, [-5, 5], [-5, 5], EV, '.1f', 'PC1 score', EV, '.1f', 'PC2 score',
           SANS, 25, SANS, 32, SANS, 32, 8, 10, 4, 4, minus=True)
bandsE = alt.Chart(pd.DataFrame({'x1': [-5, 3.42], 'x2': [-3.40, 5], 'ya': [-5, -5], 'yb': [5, 5],
                                 'c': ['#F3F69B', '#DDB3F1']})).mark_rect().encode(
    x=pE.X('x1:Q'), x2='x2:Q', y=pE.Y('ya:Q'), y2='yb:Q', color=alt.Color('c:N', scale=None))
cloud_all = list(cloud) + [(x, y) for xs, ys in cloud_rows for x, y in zip(xs, ys)]
cloudE = alt.Chart(pd.DataFrame({'x': [p[0] for p in cloud_all], 'y': [p[1] for p in cloud_all]})).mark_circle(
    size=36, color='#5E6B6B', opacity=0.36).encode(x=pE.X('x:Q'), y=pE.Y('y:Q'))
leadE = alt.Chart(pd.DataFrame({
    'x1': [-1.90, -4.07, -2.86, -3.91, 0.41, 4.00, 4.39, 4.30, 3.65, -3.34, -4.21, -3.56, -3.63],
    'y1': [2.46, 1.58, 0.88, 0.42, -0.45, -0.49, -0.61, -1.40, -2.89, -1.40, -1.65, -1.94, -2.56],
    'x2': [-1.68, -4.00, -2.77, -3.91, 0.62, 3.91, 2.99, 4.17, 3.38, -2.64, -3.99, -2.90, -3.76],
    'y2': [2.75, 1.79, 1.21, 0.22, -0.24, -0.28, -1.07, -1.61, -3.14, -1.03, -1.36, -2.10, -2.89]})
).mark_rule(color='black', strokeWidth=2).encode(x=pE.X('x1:Q'), y=pE.Y('y1:Q'), x2='x2:Q', y2='y2:Q')
ptsE = alt.Chart(pd.DataFrame({'g': genes, 'x': gene_pc1, 'y': gene_pc2})).mark_circle(
    size=170, color='#3574E6', opacity=1).encode(x=pE.X('x:Q'), y=pE.Y('y:Q'))
labE = alt.Chart(pd.DataFrame({
    't': genes,
    'x': [-1.38, -4.04, -1.58, -3.98, 0.96, 3.84, 2.14, 4.00, 2.93, -1.84, -4.00, -2.03, -3.89],
    'y': [3.07, 2.15, 1.43, -0.16, 0.09, 0.09, -1.09, -1.96, -3.55, -0.96, -0.96, -2.12, -3.32]})
).mark_text(font=SANS, fontSize=24, align='center', baseline='middle', color='black').encode(
    x=pE.X('x:Q'), y=pE.Y('y:Q'), text='t:N')
wfsp = alt.Chart(pd.DataFrame({'t': ['WFSP-', 'WFSP+'], 'x': [-3.69, 3.62], 'y': [-4.55, -4.55]})).mark_text(
    font=SANS, fontSize=25, align='center', baseline='middle', color='black').encode(
    x=pE.X('x:Q'), y=pE.Y('y:Q'), text='t:N')
panelE = alt.layer(*pE.grid([-2.5, 0, 2.5], [-3.75, -1.25, 1.25, 3.75], [-2.5, 0, 2.5], [-3.75, -1.25, 1.25, 3.75]),
                   bandsE, cloudE, leadE, ptsE, labE, wfsp, pE.frame())


# ---------------- Panels G, H, I, J ----------------
def ratio_panel(x0, x1, y0, y1, yd, yvals, yfmt, ymaj, ymin, ytitle, vals, ytp, xlp, xtp):
    p = Panel(x0, x1, y0, y1, [0, 0.3], yd, GX, '.1f', GR, yvals, yfmt, ytitle,
              NARROW, 26, NARROW, 33, SANS, 31, xlp, xtp, 4, ytp)
    return alt.layer(*p.grid(XMAJ, XMIN, ymaj, ymin), points(p, long_df(vals), 380), p.frame())


panelG = ratio_panel(1140, 1515, 541, 883, [0, 3.16], [0, 1, 2, 3], 'd', [1, 2, 3], [0.5, 1.5, 2.5],
                     'Ratio Adh1 / Tdh1', g_ratio, 53, 6, 12)
panelH = ratio_panel(1140, 1515, 1012, 1355, [0, 56.8], [0, 10, 20, 30, 40, 50], 'd', [10, 20, 30, 40, 50],
                     [5, 15, 25, 35, 45, 55], 'Ratio Nde1 / Ndi1', h_ratio, 39, 7, 12)
panelI = ratio_panel(1140, 1515, 1484, 1827, [0, 11], [0, 2.5, 5, 7.5, 10], '.1f', [2.5, 5, 7.5, 10],
                     [1.25, 3.75, 6.25, 8.75], 'Ratio Idh2 / Idh1', i_ratio, 19, 5, 9)
panelJ = ratio_panel(1655, 2033, 1484, 1827, [0, 50], [0, 10, 20, 30, 40, 50], 'd', [10, 20, 30, 40],
                     [5, 15, 25, 35, 45], 'Ratio Dld1 / Kgd1', j_ratio, 39, 5, 9)

# ---------------- Panel F + pathway diagrams (page-pixel layout) ----------------
YEL, PUR, WH = '#EBF52B', '#B85BE0', '#FFFFFF'
f_boxes = [('Hxk1', 541, 677, 642, 704, WH), ('Hxk2', 677, 813, 642, 704, YEL), ('Pgi1', 609, 745, 738, 800, PUR),
           ('Pfk1', 609, 745, 835, 896, YEL), ('Fba1', 561, 698, 931, 993, YEL), ('Tpi1', 514, 650, 1028, 1090, PUR),
           ('Tdh1', 609, 745, 1104, 1166, YEL), ('Pgk1', 609, 745, 1200, 1261, WH), ('Gpm1', 609, 745, 1298, 1359, YEL),
           ('Eno101', 609, 745, 1394, 1456, PUR), ('Pyk1', 609, 745, 1491, 1552, YEL),
           ('Pdc101', 609, 745, 1656, 1717, WH), ('Adh1', 609, 745, 1753, 1814, PUR)]
gh_boxes = [('Tdh1', 1707, 1843, 663, 724, WH), ('Adh1', 1707, 1843, 795, 857, WH),
            ('Nde1', 1587, 1723, 1132, 1194, WH), ('Ndi1', 1633, 1768, 1268, 1330, WH)]
segs = [(677, 626, 677, 642, 3), (677, 704, 677, 738, 3), (677, 800, 677, 835, 3), (677, 896, 677, 931, 3),
        (677, 993, 677, 1104, 3), (583, 993, 583, 1028, 3), (650, 1056, 666, 1056, 3), (677, 1166, 677, 1200, 3),
        (677, 1261, 677, 1298, 3), (677, 1359, 677, 1394, 3), (677, 1456, 677, 1491, 3), (677, 1552, 677, 1566, 3),
        (677, 1642, 677, 1656, 3), (677, 1717, 677, 1753, 3), (677, 1814, 677, 1828, 3), (740, 1603, 818, 1603, 2.5),
        (1655, 693, 1707, 693, 4), (1843, 693, 1874, 693, 8), (1684, 827, 1707, 827, 8), (1843, 827, 1899, 827, 4),
        (1531, 1163, 1587, 1163, 4), (1723, 1163, 2036, 1163, 4), (1531, 1300, 1633, 1300, 4),
        (1768, 1300, 2036, 1300, 4), (1678, 1231, 2024, 1231, 4)]
cof = [(813, 650, 693, 'ATP', 'ADP'), (745, 843, 888, 'ATP', 'ADP'), (745, 1112, 1156, 'NAD\u207a', 'NADH'),
       (745, 1208, 1253, 'ADP', 'ATP'), (745, 1499, 1542, 'ADP', 'ATP'), (745, 1761, 1804, 'NADH', 'NAD\u207a')]
curves = {'pi': [(1667, 668), (1669, 681), (1677, 690), (1692, 693)],
          'gtop': [(1734, 746), (1745, 732), (1770, 724), (1795, 727), (1810, 737)],
          'gbot': [(1815, 779), (1805, 792), (1780, 798), (1755, 795), (1742, 786)],
          'htop': [(1621, 1113), (1633, 1126), (1658, 1133), (1683, 1128), (1695, 1118)],
          'hbot': [(1664, 1350), (1673, 1337), (1700, 1330), (1727, 1336), (1737, 1346)],
          'nde': [(1640, 1194), (1641, 1208), (1647, 1221), (1660, 1229), (1680, 1231)],
          'ndi': [(1683, 1268), (1684, 1252), (1691, 1240), (1708, 1232)],
          'co2': [(609, 1692), (601, 1698), (596, 1704)]}
heads = []
for y in [714, 810, 906, 1052, 1176, 1271, 1369, 1466, 1562, 1727, 1824]:
    heads.append((677, y, 'triangle-down', 90, 0))
for y in [631, 728, 825, 921, 1064, 1190, 1288, 1384, 1481, 1646, 1743]:
    heads.append((677, y, 'triangle-up', 90, 0))
heads += [(583, 1003, 'triangle-down', 90, 0), (583, 1018, 'triangle-up', 90, 0),
          (669, 1056, 'triangle-right', 90, 0), (822, 1603, 'triangle-right', 110, 0),
          (594, 1707, 'triangle-left', 70, 315),
          (1885, 693, 'triangle-right', 950, 0), (1669, 827, 'triangle-left', 950, 0),
          (1812, 740, 'triangle-right', 80, 45), (1740, 784, 'triangle-left', 80, 45),
          (1740, 1231, 'triangle-right', 230, 0), (1852, 1231, 'triangle-right', 230, 0),
          (2025, 1231, 'triangle-right', 230, 0),
          (1697, 1116, 'triangle-right', 80, 315), (1739, 1348, 'triangle-right', 80, 45)]
curve_rows = []
for k, pts in curves.items():
    w = 4 if k in ('nde', 'ndi') else (2.5 if k == 'co2' else 3)
    for s, (x, y) in enumerate(pts):
        curve_rows.append({'pid': k, 'seq': s, 'x': x, 'y': y, 'w': w})
for n, (R, yt, yb, t1, t2) in enumerate(cof):
    for s, (x, y) in enumerate([(R + 12, yt + 1), (R + 5, yt + 7), (R + 2, (yt + yb) / 2),
                                (R + 5, yb - 7), (R + 12, yb - 1)]):
        curve_rows.append({'pid': 'cof%d' % n, 'seq': s, 'x': x, 'y': y, 'w': 2.5})
    heads += [(R + 15, yt, 'triangle-right', 45, 330), (R + 15, yb, 'triangle-right', 45, 30)]

f_center_txt = [('glucose', 681, 598, 24), ('pyruvate', 681, 1601, 24), ('TCA CYCLE', 925, 1601, 24),
                ('ethanol', 681, 1857, 24), ('CO\u2082', 565, 1708, 23)]
f_center_txt += [(b[0], (b[1] + b[2]) / 2, (b[3] + b[4]) / 2 + 1, 30) for b in f_boxes]
f_left_txt = []
for (R, yt, yb, t1, t2) in cof:
    f_left_txt += [(t1, R + 22, yt, 24), (t2, R + 22, yb, 24)]
gh_txt = [('P\u1d62', 1666, 650, 26), ('G3P', 1615, 693, 24), ('1,3BPG', 1958, 693, 23), ('NAD\u207a', 1727, 760, 27),
          ('NADH', 1826, 760, 27), ('EtOH', 1606, 827, 27), ('EtO', 1936, 827, 27), ('NADH', 1612, 1099, 27),
          ('NAD\u207a', 1710, 1099, 27), ('CRISTA SPACE', 1948, 1131, 27), ('INNER', 1597, 1221, 25),
          ('MEMBRANE', 1604, 1249, 25), ('e\u207b', 1790, 1229, 28), ('Q', 1937, 1231, 34), ('NADH', 1647, 1368, 27),
          ('NAD\u207a', 1750, 1368, 27), ('MIT. MATRIX', 1936, 1331, 26)]
gh_txt += [(b[0], (b[1] + b[2]) / 2, (b[3] + b[4]) / 2 + 1, 35) for b in gh_boxes]
letters = [('A', 24, 24), ('B', 545, 22), ('C', 1313, 23), ('D', 24, 729), ('E', 24, 1262), ('F', 515, 551),
           ('G', 1049, 552), ('H', 1049, 1023), ('I', 1035, 1495), ('J', 1555, 1495)]

PXS = alt.Scale(domain=[0, 2048], range=[-SHX, 2048 - SHX], nice=False, zero=False)
PYS = alt.Scale(domain=[0, 1915], range=[-SHY, 1915 - SHY], nice=False, zero=False)


def pxy(xf, yf):
    return dict(x=alt.X(xf, scale=PXS, axis=None), y=alt.Y(yf, scale=PYS, axis=None))


rules_l = alt.Chart(pd.DataFrame(segs, columns=['x1', 'y1', 'x2', 'y2', 'w'])).mark_rule(color='black').encode(
    **pxy('x1:Q', 'y1:Q'), x2='x2:Q', y2='y2:Q', strokeWidth=alt.StrokeWidth('w:Q', scale=None))
curves_l = alt.Chart(pd.DataFrame(curve_rows)).mark_line(color='black', interpolate='cardinal').encode(
    **pxy('x:Q', 'y:Q'), detail='pid:N', order='seq:Q', strokeWidth=alt.StrokeWidth('w:Q', scale=None))
boxes_l = alt.Chart(pd.DataFrame(f_boxes + gh_boxes, columns=['t', 'x0', 'x1', 'y0', 'y1', 'fill'])).mark_rect(
    stroke='black', strokeWidth=4.5).encode(**pxy('x0:Q', 'y0:Q'), x2='x1:Q', y2='y1:Q',
                                            fill=alt.Fill('fill:N', scale=None))
circ_l = alt.Chart(pd.DataFrame({'x': [1790, 1937], 'y': [1231, 1231], 's': [1750, 6400]})).mark_point(
    shape='circle', fill='white', fillOpacity=1, stroke='black', strokeWidth=3.5, opacity=1).encode(
    **pxy('x:Q', 'y:Q'), size=alt.Size('s:Q', scale=None))
heads_l = alt.Chart(pd.DataFrame(heads, columns=['x', 'y', 'shp', 's', 'a'])).mark_point(
    filled=True, color='black', opacity=1).encode(
    **pxy('x:Q', 'y:Q'), shape=alt.Shape('shp:N', scale=None), size=alt.Size('s:Q', scale=None),
    angle=alt.Angle('a:Q', scale=None))


def txt_layer(rows, font, align, weight='normal'):
    return alt.Chart(pd.DataFrame(rows, columns=['t', 'x', 'y', 's'])).mark_text(
        font=font, align=align, baseline='middle', color='black', fontWeight=weight).encode(
        **pxy('x:Q', 'y:Q'), text='t:N', size=alt.Size('s:Q', scale=None))


diagram = alt.layer(rules_l, curves_l, boxes_l, circ_l, heads_l,
                    txt_layer(f_center_txt, SANS, 'center'), txt_layer(f_left_txt, SANS, 'left'),
                    txt_layer(gh_txt, NARROW, 'center'),
                    txt_layer([(t, x, y, 40) for t, x, y in letters], SANS, 'center', 'bold'))


def inset(vals, x0, x1, y0, y1):
    xs = alt.Scale(domain=[0, 0.3], range=[x0 - SHX, x1 - SHX], nice=False, zero=False)
    ys = alt.Scale(domain=[-39, 79], range=[y1 - SHY, y0 - SHY], nice=False, zero=False)
    box = alt.Chart(pd.DataFrame({'a': [0.0], 'b': [0.3], 'c': [-39.0], 'd': [79.0]})).mark_rect(
        fill='white', stroke='#8C8C8C', strokeWidth=1.5).encode(
        x=alt.X('a:Q', scale=xs, axis=None), x2='b:Q', y=alt.Y('c:Q', scale=ys, axis=None), y2='d:Q')
    zero = alt.Chart(pd.DataFrame({'a': [0.0], 'b': [0.3], 'c': [0.0]})).mark_rule(
        color='#4D4D4D', strokeWidth=1.5).encode(
        x=alt.X('a:Q', scale=xs, axis=None), x2='b:Q', y=alt.Y('c:Q', scale=ys, axis=None))
    bars = alt.Chart(pd.DataFrame({'g': med_growth, 'v': vals, 'z': [0.0] * 8, 'col': cond_colors})).mark_rule(
        strokeWidth=5).encode(x=alt.X('g:Q', scale=xs, axis=None), y=alt.Y('v:Q', scale=ys, axis=None),
                              y2='z:Q', color=alt.Color('col:N', scale=None))
    return alt.layer(box, zero, bars)


chart = alt.layer(
    panelA, panelB, panelC, panelD, panelE, panelG, panelH, panelI, panelJ, diagram,
    inset(ins_g_top, 1563, 1753, 520, 637),
    inset(ins_g_low, 1823, 2011, 868, 986),
    inset(ins_h_top, 1562, 1750, 953, 1070),
    inset(ins_h_low, 1798, 1985, 1354, 1473)
).resolve_scale(x='independent', y='independent').properties(
    width=CW, height=CH, autosize=alt.AutoSizeParams(type='none'), padding=0, background='white'
).configure(font=SANS).configure_view(stroke='transparent')

chart.save("out.html", embed_options={"renderer": "svg", "actions": False})
